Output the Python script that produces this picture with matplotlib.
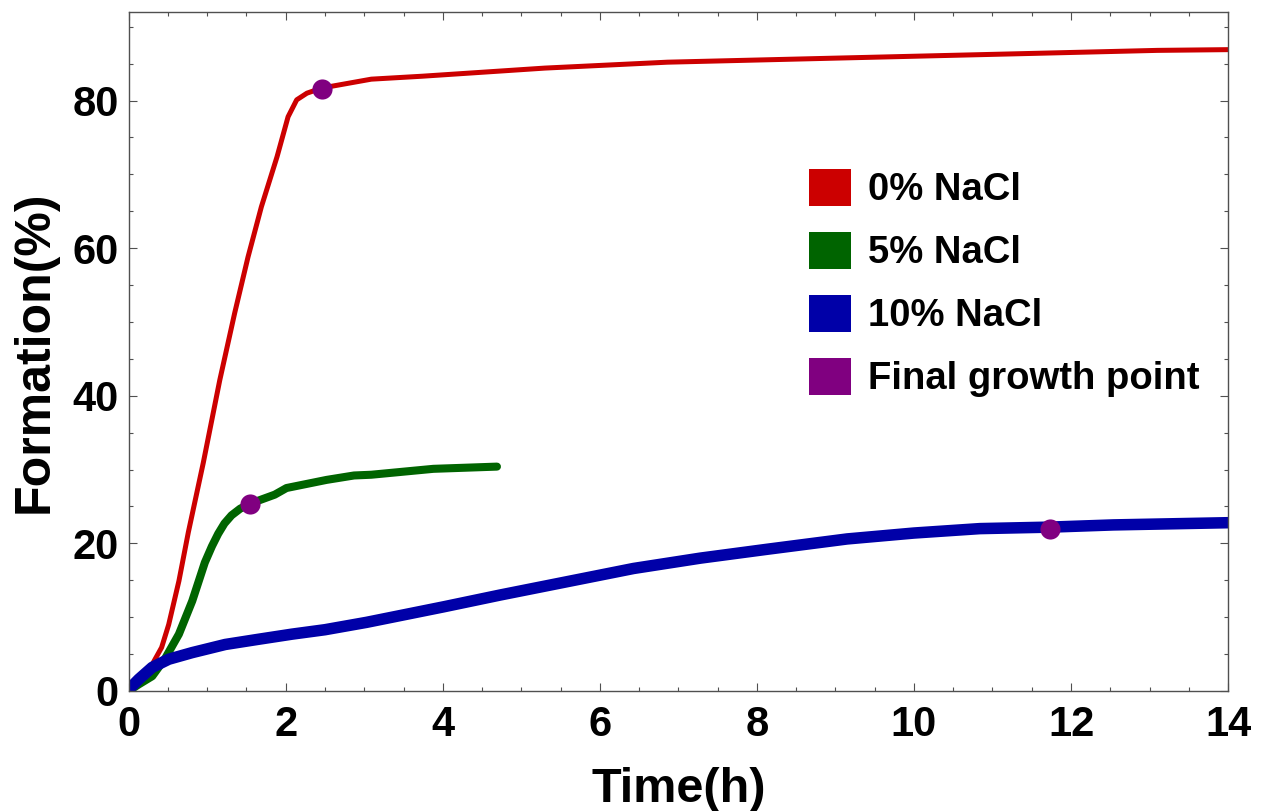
import matplotlib
matplotlib.use("Agg")
import matplotlib.pyplot as plt
from matplotlib.patches import Patch
from matplotlib.ticker import MultipleLocator

t_0 = [0, 0.13, 0.30, 0.42, 0.51, 0.64, 0.76, 0.95, 1.16, 1.35, 1.52, 1.69, 1.89,
       2.03, 2.14, 2.27, 2.46, 3.09, 3.74, 5.3, 6.86, 8.42, 9.98, 11.55, 13.1, 14.0]
f_0 = [0, 1.8, 3.6, 5.9, 9.0, 14.9, 21.5, 30.9, 42.1, 51.2, 58.8, 65.6, 72.4,
       77.8, 80.1, 81.0, 81.7, 82.9, 83.3, 84.4, 85.2, 85.6, 86.0, 86.4, 86.8, 86.9]

t_5 = [0, 0.13, 0.30, 0.47, 0.64, 0.81, 0.97, 1.06, 1.14, 1.22, 1.31, 1.42, 1.55,
       1.86, 2.01, 2.52, 2.87, 3.09, 3.88, 4.69]
f_5 = [0, 0.9, 2.0, 4.5, 7.7, 12.2, 17.4, 19.6, 21.3, 22.7, 23.8, 24.7, 25.4,
       26.6, 27.5, 28.6, 29.2, 29.3, 30.1, 30.4]

t_10 = [0, 0.13, 0.30, 0.51, 0.81, 1.23, 1.65, 2.08, 2.5, 3.03, 4.01, 4.73, 5.58,
        6.43, 7.28, 8.13, 9.15, 10.0, 10.84, 11.73, 12.54, 14.0]
f_10 = [0.2, 1.6, 3.2, 4.3, 5.2, 6.3, 7.0, 7.7, 8.3, 9.3, 11.4, 13.0, 14.8,
        16.6, 18.0, 19.2, 20.6, 21.4, 22.0, 22.2, 22.5, 22.8]

t_final = [2.46, 1.545, 11.73]
f_final = [81.6, 25.4, 21.95]

labels = ['0% NaCl', '5% NaCl', '10% NaCl', 'Final growth point']
colors = ['#CC0000', '#006400', '#0000A8', '#800080']

plt.rcParams['font.family'] = ['Liberation Sans', 'DejaVu Sans']
plt.rcParams['font.weight'] = 'bold'

fig = plt.figure(figsize=(12.65, 8.11), dpi=100)
ax = fig.add_axes([0.1017, 0.148, 0.8691, 0.8372])

ax.plot(t_0, f_0, color=colors[0], lw=3.6, solid_capstyle='round', solid_joinstyle='round')
ax.plot(t_5, f_5, color=colors[1], lw=5.8, solid_capstyle='round', solid_joinstyle='round')
ax.plot(t_10, f_10, color=colors[2], lw=8.3, solid_capstyle='round', solid_joinstyle='round')
ax.plot(t_final, f_final, 'o', color=colors[3], ms=14.5, mec='none', zorder=5)

ax.set_xlim(0, 14)
ax.set_ylim(0, 92)
ax.xaxis.set_major_locator(MultipleLocator(2))
ax.xaxis.set_minor_locator(MultipleLocator(0.5))
ax.yaxis.set_major_locator(MultipleLocator(20))
ax.yaxis.set_minor_locator(MultipleLocator(5))

for s in ax.spines.values():
    s.set_color('#505050')
    s.set_linewidth(1.0)
ax.tick_params(which='both', direction='in', top=True, right=True, color='#505050', width=0.8)
ax.tick_params(which='major', length=5.5, labelsize=30)
ax.tick_params(which='minor', length=3.2)
ax.tick_params(axis='x', pad=10)
ax.tick_params(axis='y', pad=7)
for lab in ax.get_xticklabels() + ax.get_yticklabels():
    lab.set_fontweight('bold')

ax.set_xlabel('Time(h)', fontsize=35, fontweight='bold', labelpad=16)
ax.set_ylabel('Formation(%)', fontsize=36, fontweight='bold', labelpad=11)

handles = [Patch(facecolor=c, edgecolor='none') for c in colors]
ax.legend(handles, labels, loc='upper left', bbox_to_anchor=(809 / 1265, 1 - 169 / 811),
          bbox_transform=fig.transFigure, frameon=False, borderpad=0, borderaxespad=0,
          prop={'size': 27.5, 'weight': 'bold'}, handlelength=1.1, handleheight=1.1,
          handletextpad=0.45, labelspacing=0.62)

fig.savefig('out.png', dpi=100)
